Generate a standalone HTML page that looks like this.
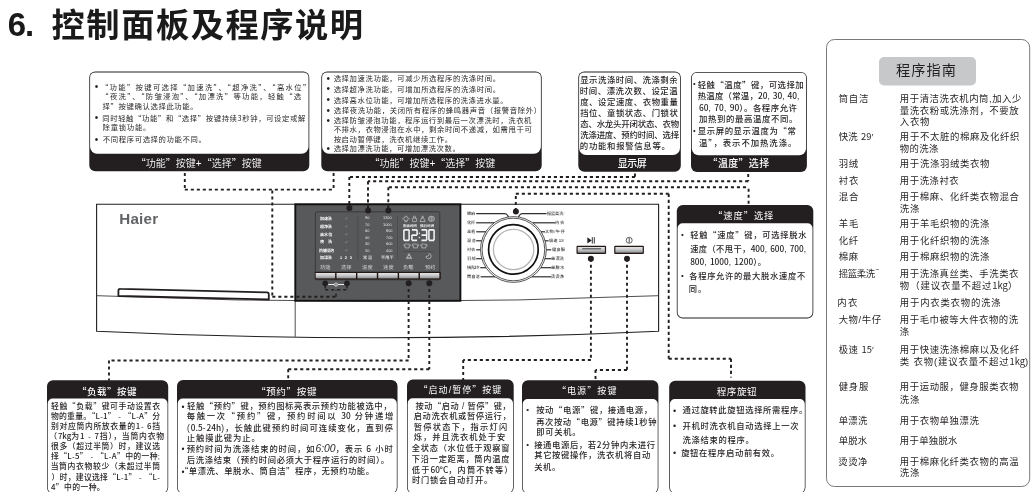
<!DOCTYPE html>
<html lang="zh-CN">
<head>
<meta charset="utf-8">
<title>6. 控制面板及程序说明</title>
<style>
html,body{margin:0;padding:0;background:#fff}
body{width:1034px;height:492px;position:relative;overflow:hidden;font-family:"Liberation Sans","Noto Sans CJK SC",sans-serif;color:#231f20}
.t{position:absolute;white-space:nowrap;line-height:1;font-weight:400;margin:0;padding:0}
.q{font-family:"Noto Sans CJK SC","Liberation Sans",sans-serif;line-height:0}
#tx{position:absolute;left:0;top:0;width:1034px;height:492px;will-change:transform}
.n{letter-spacing:0;font-family:"Noto Sans CJK SC","Liberation Sans",sans-serif;line-height:0}
.w{color:#fff}
i{font-style:italic;font-size:1.25em;line-height:0;letter-spacing:0}
</style>
</head>
<body>
<svg width="1034" height="492" viewBox="0 0 1034 492" style="position:absolute;left:0;top:0">
<defs><linearGradient id="bg" x1="0" y1="0" x2="0" y2="1"><stop offset="0" stop-color="#e6e6e7"/><stop offset="0.5" stop-color="#c4c5c7"/><stop offset="1" stop-color="#8f9092"/></linearGradient></defs>
<rect x="826.5" y="39.5" width="203.2" height="447" rx="8" ry="8" fill="#fff" stroke="#6a6a6c" stroke-width="0.9"/>
<rect x="879" y="57" width="97" height="28.5" rx="5" ry="5" fill="#c6c8ca"/>
<path d="M96.6 204.3 H658.6 V331.2 Q377 344.4 96.6 331.2 Z" fill="#fff" stroke="#231f20" stroke-width="1.1"/>
<path d="M96.6 295.7 Q377 307 658.6 295.7" fill="none" stroke="#231f20" stroke-width="0.8"/>
<line x1="295.2" y1="301" x2="295.2" y2="336.8" stroke="#231f20" stroke-width="0.8"/>
<path d="M120.5 288.8 L267 292.4 Q268.8 292.5 268.8 294.3 V299.5 L118.4 296 V290.8 Q118.4 288.7 120.5 288.8 Z" fill="#fff" stroke="#231f20" stroke-width="1.8" stroke-linejoin="round"/>
<rect x="295.3" y="204.3" width="165.1" height="96.5" fill="#58595b" stroke="#111" stroke-width="1.9"/>
<rect x="315.4" y="211.8" width="124.4" height="68" rx="1.5" fill="#58595b" stroke="#3a3a3c" stroke-width="1"/>
<line x1="357.7" y1="215.8" x2="357.7" y2="259.6" stroke="#434345" stroke-width="0.6"/>
<line x1="397.5" y1="215.8" x2="397.5" y2="259.6" stroke="#434345" stroke-width="0.6"/>
<line x1="403" y1="251.5" x2="433.6" y2="251.5" stroke="#434345" stroke-width="0.6"/>
<rect x="314.8" y="271.8" width="126" height="7.8" rx="0.8" fill="#231815"/>
<rect x="315.70" y="273" width="19.4" height="5.4" fill="url(#bg)"/>
<rect x="336.55" y="273" width="19.4" height="5.4" fill="url(#bg)"/>
<rect x="357.40" y="273" width="19.4" height="5.4" fill="url(#bg)"/>
<rect x="378.25" y="273" width="19.4" height="5.4" fill="url(#bg)"/>
<rect x="399.10" y="273" width="19.4" height="5.4" fill="url(#bg)"/>
<rect x="419.95" y="273" width="19.4" height="5.4" fill="url(#bg)"/>
<path d="M345.0 218.60000000000002 l0.8 0.8 l1.7 -2.0" fill="none" stroke="#c4c4c4" stroke-width="0.4"/>
<path d="M345.0 226.4 l0.8 0.8 l1.7 -2.0" fill="none" stroke="#c4c4c4" stroke-width="0.4"/>
<path d="M345.0 234.3 l0.8 0.8 l1.7 -2.0" fill="none" stroke="#c4c4c4" stroke-width="0.4"/>
<path d="M345.0 242.20000000000002 l0.8 0.8 l1.7 -2.0" fill="none" stroke="#c4c4c4" stroke-width="0.4"/>
<path d="M345.0 250.3 l0.8 0.8 l1.7 -2.0" fill="none" stroke="#c4c4c4" stroke-width="0.4"/>
<g fill="none" stroke="#e2e2e2" stroke-width="0.55">
<circle cx="406" cy="218.8" r="2.2"/><path d="M403 218.8h-0.9M409 218.8h0.9M406 215.6v0.9M404.6 221.6h2.8"/>
<rect x="412.4" y="218.2" width="4.2" height="3.4" rx="0.6"/><path d="M413.4 218.2v-1.1a1.05 1.05 0 0 1 2.1 0v1.1"/>
<path d="M420 221.5l1.7-3.6h1.8l1.7 3.6z"/><circle cx="422.6" cy="216.9" r="0.8"/>
<ellipse cx="431.4" cy="218.8" rx="3.1" ry="2.6"/><path d="M431.4 216.4v4.8M429.9 217v3.6M432.9 217v3.6"/>
<path d="M405.09999999999997 244l-1.4 0.9 0.6 1.1 0.8-0.35v2.3h4v-2.3l0.8 0.35 0.6-1.1-1.4-0.9q-1 0.9-2 0z"/>
<path d="M413.4 244l-1.4 0.9 0.6 1.1 0.8-0.35v2.3h4v-2.3l0.8 0.35 0.6-1.1-1.4-0.9q-1 0.9-2 0z"/>
<path d="M421.9 244l-1.4 0.9 0.6 1.1 0.8-0.35v2.3h4v-2.3l0.8 0.35 0.6-1.1-1.4-0.9q-1 0.9-2 0z"/>
<path d="M406.3 258.6l1.7-3.2h2l1.7 3.2zM406.9 257.3h4.2"/><circle cx="409" cy="254.5" r="0.8"/>
<path d="M428.6 253.6a2.6 2.6 0 1 1 -2.6 2.6h1.8M428.6 254.6v1.6"/>
</g>
<g fill="none" stroke="#f2f2f2" stroke-width="1.55" stroke-linejoin="miter">
<path d="M403.9 229.85h5.2M409.09999999999997 229.85v5.25M409.09999999999997 235.1v5.25M403.9 240.35h5.2M403.9 235.1v5.25M403.9 229.85v5.25M411.9 229.85h5.2M417.09999999999997 229.85v5.25M411.9 235.1h5.2M411.9 235.1v5.25M411.9 240.35h5.2M421.5 229.85h5.2M426.7 229.85v5.25M421.5 235.1h5.2M426.7 235.1v5.25M421.5 240.35h5.2M428.9 229.85h5.2M434.09999999999997 229.85v5.25M434.09999999999997 235.1v5.25M428.9 240.35h5.2M428.9 235.1v5.25M428.9 229.85v5.25"/>
</g>
<rect x="418.7" y="232.7" width="1.2" height="1.3" fill="#f2f2f2"/><rect x="418.7" y="236.9" width="1.2" height="1.3" fill="#f2f2f2"/>
<path d="M328.2 284.5H334M338 284.5H344" stroke="#fff" stroke-width="0.9" fill="none"/>
<circle cx="336" cy="284.6" r="1.7" fill="#8a8b8d" stroke="#f0f0f0" stroke-width="0.6"/>
<path d="M476.2 213.7 H504.5 Q506.5 213.7 507.5 215.29999999999998 L508.6 216.89999999999998" fill="none" stroke="#2e2e30" stroke-width="1.2"/>
<path d="M546.6 213.7 H522.5 Q520.5 213.7 519.5 215.29999999999998 L518.4 216.89999999999998" fill="none" stroke="#2e2e30" stroke-width="1.2"/>
<line x1="476.2" y1="222.8" x2="494.52" y2="222.8" stroke="#2e2e30" stroke-width="1.2"/>
<line x1="532.28" y1="222.8" x2="555.2" y2="222.8" stroke="#2e2e30" stroke-width="1.2"/>
<line x1="476.2" y1="231.8" x2="485.90" y2="231.8" stroke="#2e2e30" stroke-width="1.2"/>
<line x1="540.90" y1="231.8" x2="545.0" y2="231.8" stroke="#2e2e30" stroke-width="1.2"/>
<line x1="476.2" y1="240.8" x2="481.88" y2="240.8" stroke="#2e2e30" stroke-width="1.2"/>
<line x1="544.92" y1="240.8" x2="548.6" y2="240.8" stroke="#2e2e30" stroke-width="1.2"/>
<line x1="476.2" y1="249.8" x2="480.70" y2="249.8" stroke="#2e2e30" stroke-width="1.2"/>
<line x1="546.10" y1="249.8" x2="551.2" y2="249.8" stroke="#2e2e30" stroke-width="1.2"/>
<line x1="476.2" y1="258.7" x2="482.02" y2="258.7" stroke="#2e2e30" stroke-width="1.2"/>
<line x1="544.78" y1="258.7" x2="551.2" y2="258.7" stroke="#2e2e30" stroke-width="1.2"/>
<line x1="480.2" y1="267.7" x2="486.23" y2="267.7" stroke="#2e2e30" stroke-width="1.2"/>
<line x1="540.57" y1="267.7" x2="551.2" y2="267.7" stroke="#2e2e30" stroke-width="1.2"/>
<line x1="480.6" y1="276.8" x2="495.40" y2="276.8" stroke="#2e2e30" stroke-width="1.2"/>
<line x1="531.40" y1="276.8" x2="551.2" y2="276.8" stroke="#2e2e30" stroke-width="1.2"/>
<circle cx="513.4" cy="249.5" r="32.9" fill="#fff" stroke="#231f20" stroke-width="0.75"/>
<circle cx="513.4" cy="249.5" r="31.3" fill="none" stroke="#231f20" stroke-width="0.75"/>
<circle cx="513.4" cy="249.4" r="24.8" fill="none" stroke="#111" stroke-width="1.7"/>
<circle cx="513.6" cy="249.5" r="20.2" fill="none" stroke="#b6b6b8" stroke-width="1.3"/>
<rect x="576.5" y="245.8" width="29.60" height="8.1" rx="1" fill="#231815"/>
<rect x="577.7" y="247" width="27.20" height="5.7" fill="url(#bg)"/>
<rect x="614.2" y="245.8" width="29.70" height="8.1" rx="1" fill="#231815"/>
<rect x="615.4000000000001" y="247" width="27.30" height="5.7" fill="url(#bg)"/>
<rect x="582.2" y="248" width="18.9" height="1.5" fill="#6d6e70"/>
<path d="M587.4 237.2v6.4l4.3-3.2z" fill="#231f20"/><path d="M592.3 237.2v6.4M594.3 237.2v6.4" stroke="#231f20" stroke-width="0.9" fill="none"/>
<circle cx="629.2" cy="240.3" r="3.0" fill="none" stroke="#231f20" stroke-width="0.7"/><line x1="629.2" y1="237.9" x2="629.2" y2="242.7" stroke="#231f20" stroke-width="0.8"/>
<line x1="184.8" y1="173" x2="184.8" y2="189.6" stroke="#231f20" stroke-width="1.9" stroke-dasharray="3.1 2.9"/>
<line x1="184.8" y1="189.6" x2="333.6" y2="189.6" stroke="#231f20" stroke-width="1.9" stroke-dasharray="3.1 2.9"/>
<line x1="333.6" y1="173" x2="333.6" y2="189.6" stroke="#231f20" stroke-width="1.9" stroke-dasharray="3.1 2.9"/>
<line x1="272.3" y1="190.5" x2="272.3" y2="296.7" stroke="#231f20" stroke-width="1.9" stroke-dasharray="3.1 2.9"/>
<line x1="272.3" y1="296.7" x2="336" y2="296.7" stroke="#231f20" stroke-width="1.9" stroke-dasharray="3.1 2.9"/>
<line x1="336" y1="296.7" x2="336" y2="290" stroke="#231f20" stroke-width="1.4" stroke-dasharray="3.1 2.9"/>
<line x1="325.2" y1="289.7" x2="347" y2="289.7" stroke="#231f20" stroke-width="1.4" stroke-dasharray="3.1 2.9"/>
<path d="M325.2 283v5.5M347 283v5.5" stroke="#231f20" stroke-width="1.4" fill="none"/>
<circle cx="325.2" cy="283.2" r="2.8" fill="#231f20"/>
<circle cx="347" cy="283.2" r="2.8" fill="#231f20"/>
<line x1="635" y1="173.6" x2="635" y2="177" stroke="#231f20" stroke-width="1.9" stroke-dasharray="3.1 2.9"/>
<line x1="635" y1="177" x2="349.3" y2="177" stroke="#231f20" stroke-width="1.9" stroke-dasharray="3.1 2.9"/>
<line x1="349.3" y1="177" x2="349.3" y2="208" stroke="#231f20" stroke-width="1.9" stroke-dasharray="3.1 2.9"/>
<circle cx="349.4" cy="208.1" r="3.0" fill="#231f20"/>
<line x1="748.2" y1="174" x2="748.2" y2="181.3" stroke="#231f20" stroke-width="1.9" stroke-dasharray="3.1 2.9"/>
<line x1="748.2" y1="181.3" x2="368" y2="181.3" stroke="#231f20" stroke-width="1.9" stroke-dasharray="3.1 2.9"/>
<line x1="368" y1="181.3" x2="368" y2="210.5" stroke="#231f20" stroke-width="1.9" stroke-dasharray="3.1 2.9"/>
<circle cx="368.1" cy="210.6" r="3.0" fill="#231f20"/>
<line x1="748.6" y1="203.8" x2="748.6" y2="187.2" stroke="#231f20" stroke-width="1.9" stroke-dasharray="3.1 2.9"/>
<line x1="746" y1="187.2" x2="388.3" y2="187.2" stroke="#231f20" stroke-width="1.9" stroke-dasharray="3.1 2.9"/>
<line x1="388.3" y1="187.2" x2="388.3" y2="210.5" stroke="#231f20" stroke-width="1.9" stroke-dasharray="3.1 2.9"/>
<circle cx="388.4" cy="210.6" r="3.0" fill="#231f20"/>
<line x1="515.8" y1="211" x2="515.8" y2="193.8" stroke="#231f20" stroke-width="1.9" stroke-dasharray="3.1 2.9"/>
<line x1="515.8" y1="193.8" x2="668.7" y2="193.8" stroke="#231f20" stroke-width="1.9" stroke-dasharray="3.1 2.9"/>
<line x1="668.7" y1="193.8" x2="668.7" y2="358.8" stroke="#231f20" stroke-width="1.9" stroke-dasharray="3.1 2.9"/>
<line x1="668.7" y1="358.8" x2="731" y2="358.8" stroke="#231f20" stroke-width="1.9" stroke-dasharray="3.1 2.9"/>
<line x1="731" y1="358.8" x2="731" y2="377.5" stroke="#231f20" stroke-width="1.9" stroke-dasharray="3.1 2.9"/>
<circle cx="515.9" cy="211.5" r="3.0" fill="#231f20"/>
<line x1="408.6" y1="283" x2="408.6" y2="360.5" stroke="#231f20" stroke-width="1.9" stroke-dasharray="3.1 2.9"/>
<line x1="408.6" y1="360.5" x2="109" y2="360.5" stroke="#231f20" stroke-width="1.9" stroke-dasharray="3.1 2.9"/>
<line x1="109" y1="360.5" x2="109" y2="380.5" stroke="#231f20" stroke-width="1.9" stroke-dasharray="3.1 2.9"/>
<circle cx="408.7" cy="283.2" r="3.0" fill="#231f20"/>
<line x1="429.3" y1="283" x2="429.3" y2="369.2" stroke="#231f20" stroke-width="1.9" stroke-dasharray="3.1 2.9"/>
<line x1="429.3" y1="369.2" x2="288.2" y2="369.2" stroke="#231f20" stroke-width="1.9" stroke-dasharray="3.1 2.9"/>
<line x1="288.2" y1="369.2" x2="288.2" y2="380.5" stroke="#231f20" stroke-width="1.9" stroke-dasharray="3.1 2.9"/>
<circle cx="429.3" cy="283.2" r="3.0" fill="#231f20"/>
<line x1="590.9" y1="258.7" x2="590.9" y2="360" stroke="#231f20" stroke-width="1.9" stroke-dasharray="3.1 2.9"/>
<line x1="590.9" y1="360" x2="463.2" y2="360" stroke="#231f20" stroke-width="1.9" stroke-dasharray="3.1 2.9"/>
<line x1="463.2" y1="360" x2="463.2" y2="380" stroke="#231f20" stroke-width="1.9" stroke-dasharray="3.1 2.9"/>
<circle cx="590.9" cy="258.7" r="3.0" fill="#231f20"/>
<line x1="627" y1="258.7" x2="627" y2="370" stroke="#231f20" stroke-width="1.9" stroke-dasharray="3.1 2.9"/>
<line x1="627" y1="370" x2="595.5" y2="370" stroke="#231f20" stroke-width="1.9" stroke-dasharray="3.1 2.9"/>
<line x1="595.5" y1="370" x2="595.5" y2="380.5" stroke="#231f20" stroke-width="1.9" stroke-dasharray="3.1 2.9"/>
<circle cx="627" cy="258.7" r="3.0" fill="#231f20"/>
<rect x="89.3" y="71.6" width="220.00" height="99.70" rx="6" ry="6" fill="#231f20"/><path d="M95.10 72.40 H303.50 A5 5 0 0 1 308.50 77.40 V146.80 A7 7 0 0 1 301.50 153.80 H97.10 A7 7 0 0 1 90.10 146.80 V77.40 A5 5 0 0 1 95.10 72.40 Z" fill="#fff"/>
<rect x="321.3" y="71.6" width="220.40" height="99.70" rx="6" ry="6" fill="#231f20"/><path d="M327.10 72.40 H535.90 A5 5 0 0 1 540.90 77.40 V146.80 A7 7 0 0 1 533.90 153.80 H329.10 A7 7 0 0 1 322.10 146.80 V77.40 A5 5 0 0 1 327.10 72.40 Z" fill="#fff"/>
<rect x="578.3" y="71.6" width="102.50" height="100.10" rx="6" ry="6" fill="#231f20"/><path d="M584.10 72.40 H675.00 A5 5 0 0 1 680.00 77.40 V148.00 A7 7 0 0 1 673.00 155.00 H586.10 A7 7 0 0 1 579.10 148.00 V77.40 A5 5 0 0 1 584.10 72.40 Z" fill="#fff"/>
<rect x="691.0" y="72.0" width="115.90" height="100.00" rx="6" ry="6" fill="#231f20"/><path d="M696.80 72.80 H801.10 A5 5 0 0 1 806.10 77.80 V148.20 A7 7 0 0 1 799.10 155.20 H698.80 A7 7 0 0 1 691.80 148.20 V77.80 A5 5 0 0 1 696.80 72.80 Z" fill="#fff"/>
<path d="M682.80 205.00 H807.30 A6 6 0 0 1 813.30 211.00 V312.40 A6 6 0 0 1 807.30 318.40 H682.80 A6 6 0 0 1 676.80 312.40 V211.00 A6 6 0 0 1 682.80 205.00 Z" fill="#231f20"/><path d="M682.60 223.30 H807.50 A5 5 0 0 1 812.50 228.30 V312.40 A5.2 5.2 0 0 1 807.30 317.60 H682.80 A5.2 5.2 0 0 1 677.60 312.40 V228.30 A5 5 0 0 1 682.60 223.30 Z" fill="#fff"/>
<path d="M53.00 380.20 H162.20 A6 6 0 0 1 168.20 386.20 V487.20 A7 7 0 0 1 161.20 494.20 H54.00 A7 7 0 0 1 47.00 487.20 V386.20 A6 6 0 0 1 53.00 380.20 Z" fill="#231f20"/><path d="M52.70 398.60 H162.50 A5 5 0 0 1 167.50 403.60 V487.20 A6.3 6.3 0 0 1 161.20 493.50 H54.00 A6.3 6.3 0 0 1 47.70 487.20 V403.60 A5 5 0 0 1 52.70 398.60 Z" fill="#fff"/>
<path d="M183.00 380.00 H391.50 A6 6 0 0 1 397.50 386.00 V487.20 A7 7 0 0 1 390.50 494.20 H184.00 A7 7 0 0 1 177.00 487.20 V386.00 A6 6 0 0 1 183.00 380.00 Z" fill="#231f20"/><path d="M182.70 398.60 H391.80 A5 5 0 0 1 396.80 403.60 V487.20 A6.3 6.3 0 0 1 390.50 493.50 H184.00 A6.3 6.3 0 0 1 177.70 487.20 V403.60 A5 5 0 0 1 182.70 398.60 Z" fill="#fff"/>
<path d="M413.00 379.60 H507.70 A6 6 0 0 1 513.70 385.60 V487.20 A7 7 0 0 1 506.70 494.20 H414.00 A7 7 0 0 1 407.00 487.20 V385.60 A6 6 0 0 1 413.00 379.60 Z" fill="#231f20"/><path d="M412.70 398.20 H508.00 A5 5 0 0 1 513.00 403.20 V487.20 A6.3 6.3 0 0 1 506.70 493.50 H414.00 A6.3 6.3 0 0 1 407.70 487.20 V403.20 A5 5 0 0 1 412.70 398.20 Z" fill="#fff"/>
<path d="M528.00 380.30 H652.40 A6 6 0 0 1 658.40 386.30 V487.20 A7 7 0 0 1 651.40 494.20 H529.00 A7 7 0 0 1 522.00 487.20 V386.30 A6 6 0 0 1 528.00 380.30 Z" fill="#231f20"/><path d="M527.70 399.00 H652.70 A5 5 0 0 1 657.70 404.00 V487.20 A6.3 6.3 0 0 1 651.40 493.50 H529.00 A6.3 6.3 0 0 1 522.70 487.20 V404.00 A5 5 0 0 1 527.70 399.00 Z" fill="#fff"/>
<path d="M675.20 380.80 H799.50 A6 6 0 0 1 805.50 386.80 V487.20 A7 7 0 0 1 798.50 494.20 H676.20 A7 7 0 0 1 669.20 487.20 V386.80 A6 6 0 0 1 675.20 380.80 Z" fill="#231f20"/><path d="M674.90 399.00 H799.80 A5 5 0 0 1 804.80 404.00 V487.20 A6.3 6.3 0 0 1 798.50 493.50 H676.20 A6.3 6.3 0 0 1 669.90 487.20 V404.00 A5 5 0 0 1 674.90 399.00 Z" fill="#fff"/>
</svg>
<div id="tx">
<span class="t" style="left:7.80px;top:8.00px;font-size:33px;font-weight:700;letter-spacing:-1.067px;color:#1a1a1a;">6.</span>
<span class="t" style="left:51.60px;top:9.00px;font-size:33.3px;font-weight:700;letter-spacing:1.475px;color:#1a1a1a;">控制面板及程序说明</span>
<span class="t" style="left:100.93px;top:84.00px;font-size:7.35px;letter-spacing:1.320px;"><span class="q">“</span>功能<span class="q">”</span>按键可选择<span class="q">“</span>加速洗<span class="q">”</span>、<span class="q">“</span>超净洗<span class="q">”</span>、<span class="q">“</span>高水位<span class="q">”</span></span>
<span class="t" style="left:101.33px;top:93.00px;font-size:7.35px;letter-spacing:1.282px;"><span class="q">“</span>夜洗<span class="q">”</span>、<span class="q">“</span>防皱浸泡<span class="q">”</span>、<span class="q">“</span>加漂洗<span class="q">”</span>等功能，轻触<span class="q">“</span>选</span>
<span class="t" style="left:102.57px;top:103.00px;font-size:7.35px;letter-spacing:0.633px;">择<span class="q">”</span>按键确认选择此功能。</span>
<span class="t" style="left:102.23px;top:115.00px;font-size:7.35px;letter-spacing:0.612px;">同时轻触<span class="q">“</span>功能<span class="q">”</span>和<span class="q">“</span>选择<span class="q">”</span>按键持续<span class="q">3</span>秒钟，可设定或解</span>
<span class="t" style="left:102.57px;top:124.00px;font-size:7.35px;letter-spacing:0.753px;">除童锁功能。</span>
<span class="t" style="left:102.87px;top:136.00px;font-size:7.35px;letter-spacing:0.617px;">不同程序可选择的功能不同。</span>
<span class="t" style="left:94.73px;top:82.00px;font-size:10px;">•</span>
<span class="t" style="left:94.73px;top:113.00px;font-size:10px;">•</span>
<span class="t" style="left:94.73px;top:135.00px;font-size:10px;">•</span>
<span class="t w" style="left:135.67px;top:159.00px;font-size:10px;font-weight:350;letter-spacing:0.017px;"><span class="q">“</span>功能<span class="q">”</span>按键+<span class="q">“</span>选择<span class="q">”</span>按键</span>
<span class="t" style="left:333.67px;top:75.00px;font-size:7.35px;letter-spacing:0.610px;">选择加速洗功能，可减少所选程序的洗涤时间。</span>
<span class="t" style="left:333.67px;top:86.00px;font-size:7.35px;letter-spacing:0.610px;">选择超净洗功能，可增加所选程序的洗涤时间。</span>
<span class="t" style="left:333.67px;top:97.00px;font-size:7.35px;letter-spacing:0.590px;">选择高水位功能，可增加所选程序的洗涤进水量。</span>
<span class="t" style="left:333.67px;top:107.00px;font-size:7.35px;letter-spacing:0.664px;">选择夜洗功能，关闭所有程序的蜂鸣器声音（报警音除外）</span>
<span class="t" style="left:333.67px;top:117.00px;font-size:7.35px;letter-spacing:0.590px;">选择防皱浸泡功能，程序运行到最后一次漂洗时，洗衣机</span>
<span class="t" style="left:333.67px;top:126.00px;font-size:7.35px;letter-spacing:0.604px;">不排水，衣物浸泡在水中，剩余时间不递减，如需甩干可</span>
<span class="t" style="left:333.67px;top:136.00px;font-size:7.35px;letter-spacing:0.586px;">按启动暂停键，洗衣机继续工作。</span>
<span class="t" style="left:333.67px;top:145.00px;font-size:7.35px;letter-spacing:0.576px;">选择加漂洗功能，可增加漂洗次数。</span>
<span class="t" style="left:326.43px;top:74.00px;font-size:10px;">•</span>
<span class="t" style="left:326.43px;top:84.00px;font-size:10px;">•</span>
<span class="t" style="left:326.43px;top:95.00px;font-size:10px;">•</span>
<span class="t" style="left:326.43px;top:106.00px;font-size:10px;">•</span>
<span class="t" style="left:326.43px;top:116.00px;font-size:10px;">•</span>
<span class="t" style="left:326.43px;top:144.00px;font-size:10px;">•</span>
<span class="t w" style="left:369.47px;top:159.00px;font-size:10px;font-weight:350;letter-spacing:-0.006px;"><span class="q">“</span>功能<span class="q">”</span>按键+<span class="q">“</span>选择<span class="q">”</span>按键</span>
<span class="t" style="left:580.17px;top:76.00px;font-size:8.4px;font-weight:500;letter-spacing:0.537px;">显示洗涤时间、洗涤剩余</span>
<span class="t" style="left:579.83px;top:87.00px;font-size:8.4px;font-weight:500;letter-spacing:0.570px;">时间、漂洗次数、设定温</span>
<span class="t" style="left:580.17px;top:98.00px;font-size:8.4px;font-weight:500;letter-spacing:0.563px;">度、设定速度、衣物重量</span>
<span class="t" style="left:580.17px;top:109.00px;font-size:8.4px;font-weight:500;letter-spacing:0.563px;">挡位、童锁状态、门锁状</span>
<span class="t" style="left:580.17px;top:120.00px;font-size:8.4px;font-weight:500;letter-spacing:-0.136px;">态、水龙头开闭状态、衣物</span>
<span class="t" style="left:580.17px;top:131.00px;font-size:8.4px;font-weight:500;letter-spacing:-0.136px;">洗涤进度、预约时间、选择</span>
<span class="t" style="left:579.83px;top:142.00px;font-size:8.4px;font-weight:500;letter-spacing:0.700px;">的功能和报警信息等。</span>
<span class="t w" style="left:617.67px;top:159.00px;font-size:10px;font-weight:500;letter-spacing:-0.417px;">显示屏</span>
<span class="t" style="left:697.67px;top:81.00px;font-size:8.4px;font-weight:500;letter-spacing:0.506px;">轻触<span class="q">“</span>温度<span class="q">”</span>键，可选择加</span>
<span class="t" style="left:697.67px;top:92.00px;font-size:8.4px;font-weight:500;letter-spacing:0.248px;">热温度（常温，<span class="n">20</span>, <span class="n">30</span>, <span class="n">40</span>,</span>
<span class="t" style="left:698.97px;top:104.00px;font-size:8.4px;font-weight:500;letter-spacing:0.557px;"><span class="n">60</span>, <span class="n">70</span>, <span class="n">90</span>）。各程序允许</span>
<span class="t" style="left:698.97px;top:115.00px;font-size:8.4px;font-weight:500;letter-spacing:0.617px;">加热到的最高温度不同。</span>
<span class="t" style="left:697.67px;top:127.00px;font-size:8.4px;font-weight:500;letter-spacing:0.617px;">显示屏的显示温度为<span class="q">“</span>常</span>
<span class="t" style="left:698.97px;top:139.00px;font-size:8.4px;font-weight:500;letter-spacing:0.943px;">温<span class="q">”</span>，表示不加热洗涤。</span>
<span class="t" style="left:692.97px;top:80.00px;font-size:7.5px;">•</span>
<span class="t" style="left:692.97px;top:127.00px;font-size:7.5px;">•</span>
<span class="t w" style="left:707.60px;top:159.00px;font-size:10px;font-weight:500;letter-spacing:0.307px;"><span class="q">“</span>温度<span class="q">”</span>选择</span>
<span class="t w" style="left:713.03px;top:212.00px;font-size:9.3px;letter-spacing:0.913px;"><span class="q">“</span>速度<span class="q">”</span>选择</span>
<span class="t" style="left:690.17px;top:232.00px;font-size:8.25px;font-weight:500;letter-spacing:0.756px;">轻触<span class="q">“</span>速度<span class="q">”</span>键，可选择脱水</span>
<span class="t" style="left:690.17px;top:246.00px;font-size:8.25px;font-weight:500;letter-spacing:0.394px;">速度（不甩干，<span class="n">400</span>, <span class="n">600</span>, <span class="n">700</span>,</span>
<span class="t" style="left:690.17px;top:259.00px;font-size:8.25px;font-weight:500;letter-spacing:0.513px;"><span class="n">800</span>, <span class="n">1000</span>, <span class="n">1200</span>）。</span>
<span class="t" style="left:689.17px;top:273.00px;font-size:8.25px;font-weight:500;letter-spacing:0.736px;">各程序允许的最大脱水速度不</span>
<span class="t" style="left:688.83px;top:286.00px;font-size:8.25px;font-weight:500;letter-spacing:0.900px;">同。</span>
<span class="t" style="left:681.00px;top:231.00px;font-size:8px;">•</span>
<span class="t" style="left:681.00px;top:272.00px;font-size:8px;">•</span>
<span class="t w" style="left:76.93px;top:387.00px;font-size:9.5px;font-weight:500;letter-spacing:0.493px;"><span class="q">“</span>负载<span class="q">”</span>按键</span>
<span class="t" style="left:50.97px;top:403.00px;font-size:7.85px;font-weight:500;letter-spacing:0.594px;">轻触<span class="q">“</span>负载<span class="q">”</span>键可手动设置衣</span>
<span class="t" style="left:50.97px;top:413.00px;font-size:7.85px;font-weight:500;letter-spacing:0.233px;">物的重量。<span class="q">“</span><span class="q">L</span>-<span class="q">1</span><span class="q">”</span> - <span class="q">“</span><span class="q">L</span>-<span class="q">A</span><span class="q">”</span>分</span>
<span class="t" style="left:50.97px;top:423.00px;font-size:7.85px;font-weight:500;letter-spacing:0.640px;">别对应筒内所放衣量的<span class="q">1</span>- <span class="q">6</span>挡</span>
<span class="t" style="left:49.27px;top:433.00px;font-size:7.85px;font-weight:500;letter-spacing:0.781px;">（<span class="n">7kg</span>为<span class="q">1</span> - <span class="q">7</span>挡），当筒内衣物</span>
<span class="t" style="left:50.97px;top:443.00px;font-size:7.85px;font-weight:500;letter-spacing:0.597px;">很多（超过半筒）时，建议选</span>
<span class="t" style="left:50.97px;top:453.00px;font-size:7.85px;font-weight:500;letter-spacing:0.328px;">择<span class="q">“</span><span class="q">L</span>-<span class="q">5</span><span class="q">”</span> - <span class="q">“</span><span class="q">L</span>-<span class="q">A</span><span class="q">”</span>中的一种;</span>
<span class="t" style="left:50.63px;top:463.00px;font-size:7.85px;font-weight:500;letter-spacing:0.625px;">当筒内衣物较少（未超过半筒</span>
<span class="t" style="left:51.47px;top:474.00px;font-size:7.85px;font-weight:500;letter-spacing:0.259px;">）时，建议选择<span class="q">“</span><span class="q">L</span>-<span class="q">1</span><span class="q">”</span> - <span class="q">“</span><span class="q">L</span>-</span>
<span class="t" style="left:51.00px;top:484.00px;font-size:7.85px;font-weight:500;letter-spacing:0.356px;"><span class="q">4</span><span class="q">”</span>中的一种。</span>
<span class="t w" style="left:256.00px;top:387.00px;font-size:9.6px;letter-spacing:0.587px;"><span class="q">“</span>预约<span class="q">”</span>按键</span>
<span class="t" style="left:186.97px;top:402.00px;font-size:8.3px;font-weight:500;letter-spacing:0.623px;">轻触<span class="q">“</span>预约<span class="q">”</span>键，预约图标亮表示预约功能被选中，</span>
<span class="t" style="left:186.67px;top:412.00px;font-size:8.3px;font-weight:500;letter-spacing:1.742px;">每触一次<span class="q">“</span>预约<span class="q">”</span>键，预约时间以 <span class="n">30</span> 分钟递增</span>
<span class="t" style="left:186.97px;top:424.00px;font-size:8.3px;font-weight:500;letter-spacing:1.080px;">(<span class="n">0.5</span>-<span class="n">24h</span>)，长触此键预约时间可连续变化，直到停</span>
<span class="t" style="left:186.67px;top:434.00px;font-size:8.3px;font-weight:500;letter-spacing:0.976px;">止触摸此键为止。</span>
<span class="t" style="left:186.67px;top:445.00px;font-size:8.3px;font-weight:500;letter-spacing:0.897px;">预约时间为洗涤结束的时间，如<i>6:00</i>，表示 <span class="q">6</span> 小时</span>
<span class="t" style="left:186.67px;top:456.00px;font-size:8.3px;font-weight:500;letter-spacing:0.717px;">后洗涤结束（预约时间必须大于程序运行的时间）。</span>
<span class="t" style="left:180.00px;top:467.00px;font-size:8.3px;font-weight:500;letter-spacing:0.544px;"><span class="q">“</span>单漂洗、单脱水、筒自洁<span class="q">”</span>程序，无预约功能。</span>
<span class="t" style="left:181.50px;top:403.00px;font-size:8.5px;">•</span>
<span class="t" style="left:181.50px;top:445.00px;font-size:8.5px;">•</span>
<span class="t" style="left:181.50px;top:468.00px;font-size:8.5px;">•</span>
<span class="t w" style="left:418.53px;top:386.00px;font-size:9px;letter-spacing:1.042px;"><span class="q">“</span>启动/暂停<span class="q">”</span>按键</span>
<span class="t" style="left:415.57px;top:403.00px;font-size:8.2px;font-weight:500;letter-spacing:0.517px;">按动<span class="q">“</span>启动 / 暂停<span class="q">”</span>键，</span>
<span class="t" style="left:413.67px;top:413.00px;font-size:8.2px;font-weight:500;letter-spacing:0.690px;">启动洗衣机或暂停运行，</span>
<span class="t" style="left:413.67px;top:424.00px;font-size:8.2px;font-weight:500;letter-spacing:1.307px;">暂停状态下，指示灯闪</span>
<span class="t" style="left:413.67px;top:434.00px;font-size:8.2px;font-weight:500;letter-spacing:1.081px;">烁，并且洗衣机处于安</span>
<span class="t" style="left:411.87px;top:445.00px;font-size:8.2px;font-weight:500;letter-spacing:0.740px;">全状态（水位低于观察窗</span>
<span class="t" style="left:411.87px;top:456.00px;font-size:8.2px;font-weight:500;letter-spacing:0.740px;">下沿一定距离，筒内温度</span>
<span class="t" style="left:411.87px;top:467.00px;font-size:8.2px;font-weight:500;letter-spacing:1.133px;">低于<span class="n">60°C</span>，内筒不转等）</span>
<span class="t" style="left:411.93px;top:477.00px;font-size:8.2px;font-weight:500;letter-spacing:0.817px;">时门锁会自动打开。</span>
<span class="t w" style="left:556.93px;top:387.00px;font-size:9px;letter-spacing:1.093px;"><span class="q">“</span>电源<span class="q">”</span>按键</span>
<span class="t" style="left:536.17px;top:406.00px;font-size:8.3px;font-weight:500;letter-spacing:0.661px;">按动<span class="q">“</span>电源<span class="q">”</span>键，接通电源，</span>
<span class="t" style="left:536.17px;top:418.00px;font-size:8.3px;font-weight:500;letter-spacing:0.595px;">再次按动<span class="q">“</span>电源<span class="q">”</span>键持续<span class="q">1</span>秒钟</span>
<span class="t" style="left:536.17px;top:428.00px;font-size:8.3px;font-weight:500;letter-spacing:0.708px;">即可关机。</span>
<span class="t" style="left:534.17px;top:441.00px;font-size:8.3px;font-weight:500;letter-spacing:0.636px;">接通电源后，若<span class="q">2</span>分钟内未进行</span>
<span class="t" style="left:534.17px;top:451.00px;font-size:8.3px;font-weight:500;letter-spacing:0.681px;">其它按键操作，洗衣机将自动</span>
<span class="t" style="left:534.17px;top:463.00px;font-size:8.3px;font-weight:500;letter-spacing:0.583px;">关机。</span>
<span class="t" style="left:526.30px;top:406.00px;font-size:8px;">•</span>
<span class="t" style="left:526.30px;top:441.00px;font-size:8px;">•</span>
<span class="t w" style="left:716.67px;top:387.00px;font-size:9.6px;letter-spacing:0.522px;">程序旋钮</span>
<span class="t" style="left:682.47px;top:406.00px;font-size:8.3px;font-weight:500;letter-spacing:0.662px;">通过旋转此旋钮选择所需程序。</span>
<span class="t" style="left:682.47px;top:422.00px;font-size:8.3px;font-weight:500;letter-spacing:0.681px;">开机时洗衣机自动选择上一次</span>
<span class="t" style="left:682.47px;top:436.00px;font-size:8.3px;font-weight:500;letter-spacing:0.724px;">洗涤结束的程序。</span>
<span class="t" style="left:681.17px;top:449.00px;font-size:8.3px;font-weight:500;letter-spacing:0.663px;">旋钮在程序启动前有效。</span>
<span class="t" style="left:673.03px;top:407.00px;font-size:9px;">•</span>
<span class="t" style="left:673.03px;top:422.00px;font-size:9px;">•</span>
<span class="t" style="left:673.03px;top:449.00px;font-size:9px;">•</span>
<span class="t" style="left:895.97px;top:63.00px;font-size:14.2px;font-weight:400;letter-spacing:1.033px;">程序指南</span>
<span class="t" style="left:838.67px;top:94.00px;font-size:9.4px;letter-spacing:0.833px;">筒自洁</span>
<span class="t" style="left:838.67px;top:132.00px;font-size:9.4px;letter-spacing:0.333px;">快洗 <span class="n">29</span>′</span>
<span class="t" style="left:838.67px;top:159.00px;font-size:9.4px;letter-spacing:0.667px;">羽绒</span>
<span class="t" style="left:838.67px;top:176.00px;font-size:9.4px;letter-spacing:1.000px;">衬衣</span>
<span class="t" style="left:838.67px;top:192.00px;font-size:9.4px;letter-spacing:1.000px;">混合</span>
<span class="t" style="left:838.67px;top:219.00px;font-size:9.4px;letter-spacing:1.000px;">羊毛</span>
<span class="t" style="left:838.67px;top:236.00px;font-size:9.4px;letter-spacing:0.667px;">化纤</span>
<span class="t" style="left:838.67px;top:252.00px;font-size:9.4px;letter-spacing:0.667px;">棉麻</span>
<span class="t" style="left:838.67px;top:269.00px;font-size:9.4px;letter-spacing:-0.333px;">摇篮柔洗</span>
<span class="t" style="left:837.20px;top:298.00px;font-size:9.4px;letter-spacing:1.400px;">内衣</span>
<span class="t" style="left:838.67px;top:315.00px;font-size:9.4px;letter-spacing:0.583px;">大物/牛仔</span>
<span class="t" style="left:838.67px;top:345.00px;font-size:9.4px;letter-spacing:0.500px;">极速 <span class="n">15</span>′</span>
<span class="t" style="left:838.67px;top:382.00px;font-size:9.4px;letter-spacing:0.833px;">健身服</span>
<span class="t" style="left:838.67px;top:416.00px;font-size:9.4px;letter-spacing:0.300px;">单漂洗</span>
<span class="t" style="left:838.67px;top:436.00px;font-size:9.4px;letter-spacing:0.167px;">单脱水</span>
<span class="t" style="left:838.33px;top:457.00px;font-size:9.4px;letter-spacing:0.500px;">烫烫净</span>
<span class="t" style="left:875.40px;top:267.00px;font-size:6.5px;">~</span>
<span class="t" style="left:899.87px;top:94.00px;font-size:9.4px;letter-spacing:0.533px;">用于清洁洗衣机内筒,加入少</span>
<span class="t" style="left:899.87px;top:106.00px;font-size:9.4px;letter-spacing:0.567px;">量洗衣粉或洗涤剂，不要放</span>
<span class="t" style="left:899.87px;top:117.00px;font-size:9.4px;letter-spacing:0.700px;">入衣物</span>
<span class="t" style="left:899.87px;top:132.00px;font-size:9.4px;letter-spacing:0.642px;">用于不太脏的棉麻及化纤织</span>
<span class="t" style="left:899.87px;top:144.00px;font-size:9.4px;letter-spacing:0.356px;">物的洗涤</span>
<span class="t" style="left:899.87px;top:159.00px;font-size:9.4px;letter-spacing:0.633px;">用于洗涤羽绒类衣物</span>
<span class="t" style="left:899.87px;top:176.00px;font-size:9.4px;letter-spacing:0.513px;">用于洗涤衬衣</span>
<span class="t" style="left:899.87px;top:192.00px;font-size:9.4px;letter-spacing:0.597px;">用于棉麻、化纤类衣物混合</span>
<span class="t" style="left:899.87px;top:204.00px;font-size:9.4px;letter-spacing:0.733px;">洗涤</span>
<span class="t" style="left:899.87px;top:219.00px;font-size:9.4px;letter-spacing:0.633px;">用于羊毛织物的洗涤</span>
<span class="t" style="left:899.87px;top:236.00px;font-size:9.4px;letter-spacing:0.633px;">用于化纤织物的洗涤</span>
<span class="t" style="left:899.87px;top:252.00px;font-size:9.4px;letter-spacing:0.633px;">用于棉麻织物的洗涤</span>
<span class="t" style="left:899.87px;top:269.00px;font-size:9.4px;letter-spacing:0.552px;">用于洗涤真丝类、手洗类衣</span>
<span class="t" style="left:899.87px;top:281.00px;font-size:9.4px;letter-spacing:0.896px;">物（建议衣量不超过<span class="n">1kg</span>）</span>
<span class="t" style="left:899.87px;top:298.00px;font-size:9.4px;letter-spacing:0.778px;">用于内衣类衣物的洗涤</span>
<span class="t" style="left:899.87px;top:315.00px;font-size:9.4px;letter-spacing:0.521px;">用于毛巾被等大件衣物的洗</span>
<span class="t" style="left:899.87px;top:327.00px;font-size:9.4px;">涤</span>
<span class="t" style="left:899.87px;top:345.00px;font-size:9.4px;letter-spacing:0.612px;">用于快速洗涤棉麻以及化纤</span>
<span class="t" style="left:899.87px;top:357.00px;font-size:9.4px;letter-spacing:0.850px;">类 衣物(建议衣量不超过<span class="n">1kg</span>)</span>
<span class="t" style="left:899.87px;top:382.00px;font-size:9.4px;letter-spacing:0.552px;">用于运动服，健身服类衣物</span>
<span class="t" style="left:899.87px;top:395.00px;font-size:9.4px;letter-spacing:0.733px;">洗涤</span>
<span class="t" style="left:899.87px;top:416.00px;font-size:9.4px;letter-spacing:0.557px;">用于衣物单独漂洗</span>
<span class="t" style="left:899.87px;top:436.00px;font-size:9.4px;letter-spacing:0.267px;">用于单独脱水</span>
<span class="t" style="left:899.87px;top:457.00px;font-size:9.4px;letter-spacing:0.567px;">用于棉麻化纤类衣物的高温</span>
<span class="t" style="left:899.87px;top:468.00px;font-size:9.4px;letter-spacing:0.733px;">洗涤</span>
<span class="t" style="left:119.30px;top:211.00px;font-size:15.2px;font-weight:700;letter-spacing:0.192px;color:#626365;">Haier</span>
<span class="t w" style="left:319.80px;top:217.00px;font-size:16.4px;transform:scale(0.25);transform-origin:0 0;text-rendering:geometricPrecision;font-weight:700;letter-spacing:-0.667px;">加速洗</span>
<span class="t w" style="left:319.80px;top:225.00px;font-size:16.4px;transform:scale(0.25);transform-origin:0 0;text-rendering:geometricPrecision;font-weight:700;letter-spacing:-0.667px;">超净洗</span>
<span class="t w" style="left:319.80px;top:233.00px;font-size:16.4px;transform:scale(0.25);transform-origin:0 0;text-rendering:geometricPrecision;font-weight:700;">高水位</span>
<span class="t w" style="left:319.80px;top:240.00px;font-size:16.4px;transform:scale(0.25);transform-origin:0 0;text-rendering:geometricPrecision;font-weight:700;letter-spacing:5.333px;">夜 洗</span>
<span class="t w" style="left:319.47px;top:249.00px;font-size:16.4px;transform:scale(0.25);transform-origin:0 0;text-rendering:geometricPrecision;font-weight:700;letter-spacing:-1.689px;">防皱浸泡</span>
<span class="t w" style="left:319.80px;top:256.00px;font-size:16.4px;transform:scale(0.25);transform-origin:0 0;text-rendering:geometricPrecision;font-weight:700;letter-spacing:-0.667px;">加漂洗</span>
<span class="t w" style="left:340.40px;top:256.00px;font-size:15.2px;transform:scale(0.25);transform-origin:0 0;text-rendering:geometricPrecision;font-weight:700;letter-spacing:3.367px;">1 2 3</span>
<span class="t" style="left:365.13px;top:216.00px;font-size:15.6px;transform:scale(0.25);transform-origin:0 0;text-rendering:geometricPrecision;color:#e4e4e4;">90</span>
<span class="t" style="left:365.13px;top:223.00px;font-size:15.6px;transform:scale(0.25);transform-origin:0 0;text-rendering:geometricPrecision;color:#e4e4e4;">70</span>
<span class="t" style="left:365.13px;top:229.00px;font-size:15.6px;transform:scale(0.25);transform-origin:0 0;text-rendering:geometricPrecision;color:#e4e4e4;">60</span>
<span class="t" style="left:365.13px;top:236.00px;font-size:15.6px;transform:scale(0.25);transform-origin:0 0;text-rendering:geometricPrecision;color:#e4e4e4;">40</span>
<span class="t" style="left:365.13px;top:242.00px;font-size:15.6px;transform:scale(0.25);transform-origin:0 0;text-rendering:geometricPrecision;color:#e4e4e4;">30</span>
<span class="t" style="left:365.13px;top:249.00px;font-size:15.6px;transform:scale(0.25);transform-origin:0 0;text-rendering:geometricPrecision;color:#e4e4e4;">20</span>
<span class="t" style="left:383.25px;top:216.00px;font-size:15.6px;transform:scale(0.25);transform-origin:0 0;text-rendering:geometricPrecision;color:#e4e4e4;">1200</span>
<span class="t" style="left:383.25px;top:223.00px;font-size:15.6px;transform:scale(0.25);transform-origin:0 0;text-rendering:geometricPrecision;color:#e4e4e4;">1000</span>
<span class="t" style="left:385.63px;top:229.00px;font-size:15.6px;transform:scale(0.25);transform-origin:0 0;text-rendering:geometricPrecision;color:#e4e4e4;">800</span>
<span class="t" style="left:385.63px;top:236.00px;font-size:15.6px;transform:scale(0.25);transform-origin:0 0;text-rendering:geometricPrecision;color:#e4e4e4;">700</span>
<span class="t" style="left:385.63px;top:242.00px;font-size:15.6px;transform:scale(0.25);transform-origin:0 0;text-rendering:geometricPrecision;color:#e4e4e4;">600</span>
<span class="t" style="left:385.63px;top:249.00px;font-size:15.6px;transform:scale(0.25);transform-origin:0 0;text-rendering:geometricPrecision;color:#e4e4e4;">400</span>
<span class="t" style="left:362.97px;top:256.00px;font-size:16.4px;transform:scale(0.25);transform-origin:0 0;text-rendering:geometricPrecision;font-weight:500;letter-spacing:3.333px;color:#e4e4e4;">常温</span>
<span class="t" style="left:381.17px;top:256.00px;font-size:16.4px;transform:scale(0.25);transform-origin:0 0;text-rendering:geometricPrecision;font-weight:500;letter-spacing:0.533px;color:#e4e4e4;">不甩干</span>
<span class="t" style="left:403.20px;top:224.00px;font-size:13.6px;transform:scale(0.25);transform-origin:0 0;text-rendering:geometricPrecision;font-weight:700;letter-spacing:0.222px;color:#f0f0f0;">剩余时间</span>
<span class="t" style="left:420.20px;top:224.00px;font-size:13.6px;transform:scale(0.25);transform-origin:0 0;text-rendering:geometricPrecision;font-weight:700;letter-spacing:0.844px;color:#f0f0f0;">预约时间</span>
<span class="t" style="left:320.47px;top:265.00px;font-size:20.8px;transform:scale(0.25);transform-origin:0 0;text-rendering:geometricPrecision;color:#d2d2d2;">功能</span>
<span class="t" style="left:341.07px;top:265.00px;font-size:20.8px;transform:scale(0.25);transform-origin:0 0;text-rendering:geometricPrecision;color:#d2d2d2;">选择</span>
<span class="t" style="left:361.67px;top:265.00px;font-size:20.8px;transform:scale(0.25);transform-origin:0 0;text-rendering:geometricPrecision;letter-spacing:1.333px;color:#d2d2d2;">温度</span>
<span class="t" style="left:382.67px;top:265.00px;font-size:20.8px;transform:scale(0.25);transform-origin:0 0;text-rendering:geometricPrecision;letter-spacing:1.333px;color:#d2d2d2;">速度</span>
<span class="t" style="left:403.47px;top:265.00px;font-size:20.8px;transform:scale(0.25);transform-origin:0 0;text-rendering:geometricPrecision;color:#d2d2d2;">负载</span>
<span class="t" style="left:424.50px;top:265.00px;font-size:20.8px;transform:scale(0.25);transform-origin:0 0;text-rendering:geometricPrecision;color:#d2d2d2;">预约</span>
<span class="t" style="left:467.00px;top:212.00px;font-size:16.8px;transform:scale(0.25);transform-origin:0 0;text-rendering:geometricPrecision;font-weight:500;letter-spacing:-0.400px;color:#3a3a3c;">棉麻</span>
<span class="t" style="left:467.00px;top:221.00px;font-size:16.8px;transform:scale(0.25);transform-origin:0 0;text-rendering:geometricPrecision;font-weight:500;letter-spacing:-0.400px;color:#3a3a3c;">化纤</span>
<span class="t" style="left:467.00px;top:230.00px;font-size:16.8px;transform:scale(0.25);transform-origin:0 0;text-rendering:geometricPrecision;font-weight:500;letter-spacing:-0.400px;color:#3a3a3c;">羊毛</span>
<span class="t" style="left:466.67px;top:239.00px;font-size:16.8px;transform:scale(0.25);transform-origin:0 0;text-rendering:geometricPrecision;font-weight:500;letter-spacing:2.267px;color:#3a3a3c;">混合</span>
<span class="t" style="left:467.00px;top:248.00px;font-size:16.8px;transform:scale(0.25);transform-origin:0 0;text-rendering:geometricPrecision;font-weight:500;letter-spacing:-0.400px;color:#3a3a3c;">衬衣</span>
<span class="t" style="left:466.67px;top:257.00px;font-size:16.8px;transform:scale(0.25);transform-origin:0 0;text-rendering:geometricPrecision;font-weight:500;letter-spacing:0.933px;color:#3a3a3c;">羽绒</span>
<span class="t" style="left:467.00px;top:266.00px;font-size:16.8px;transform:scale(0.25);transform-origin:0 0;text-rendering:geometricPrecision;font-weight:500;letter-spacing:-3.378px;color:#3a3a3c;">快洗 <span class="n">29</span>′</span>
<span class="t" style="left:467.00px;top:275.00px;font-size:16.8px;transform:scale(0.25);transform-origin:0 0;text-rendering:geometricPrecision;font-weight:500;letter-spacing:0.267px;color:#3a3a3c;">筒自洁</span>
<span class="t" style="left:547.40px;top:212.00px;font-size:16.8px;transform:scale(0.25);transform-origin:0 0;text-rendering:geometricPrecision;font-weight:500;letter-spacing:-0.533px;color:#3a3a3c;">摇篮柔洗</span>
<span class="t" style="left:555.47px;top:221.00px;font-size:16.8px;transform:scale(0.25);transform-origin:0 0;text-rendering:geometricPrecision;font-weight:500;letter-spacing:3.067px;color:#3a3a3c;">内衣</span>
<span class="t" style="left:545.07px;top:230.00px;font-size:16.8px;transform:scale(0.25);transform-origin:0 0;text-rendering:geometricPrecision;font-weight:500;letter-spacing:1.633px;color:#3a3a3c;">大物/牛仔</span>
<span class="t" style="left:549.20px;top:239.00px;font-size:16.8px;transform:scale(0.25);transform-origin:0 0;text-rendering:geometricPrecision;font-weight:500;letter-spacing:0.311px;color:#3a3a3c;">极速 <span class="n">15</span>′</span>
<span class="t" style="left:551.80px;top:248.00px;font-size:16.8px;transform:scale(0.25);transform-origin:0 0;text-rendering:geometricPrecision;font-weight:500;letter-spacing:0.867px;color:#3a3a3c;">健身服</span>
<span class="t" style="left:551.47px;top:257.00px;font-size:16.8px;transform:scale(0.25);transform-origin:0 0;text-rendering:geometricPrecision;font-weight:500;letter-spacing:0.867px;color:#3a3a3c;">单漂洗</span>
<span class="t" style="left:551.47px;top:266.00px;font-size:16.8px;transform:scale(0.25);transform-origin:0 0;text-rendering:geometricPrecision;font-weight:500;letter-spacing:1.533px;color:#3a3a3c;">单脱水</span>
<span class="t" style="left:551.47px;top:275.00px;font-size:16.8px;transform:scale(0.25);transform-origin:0 0;text-rendering:geometricPrecision;font-weight:500;letter-spacing:0.867px;color:#3a3a3c;">烫烫净</span>
<span class="t" style="left:563.73px;top:211.00px;font-size:10px;transform:scale(0.25);transform-origin:0 0;text-rendering:geometricPrecision;color:#3a3a3c;">~</span>
</div>
</body>
</html>
